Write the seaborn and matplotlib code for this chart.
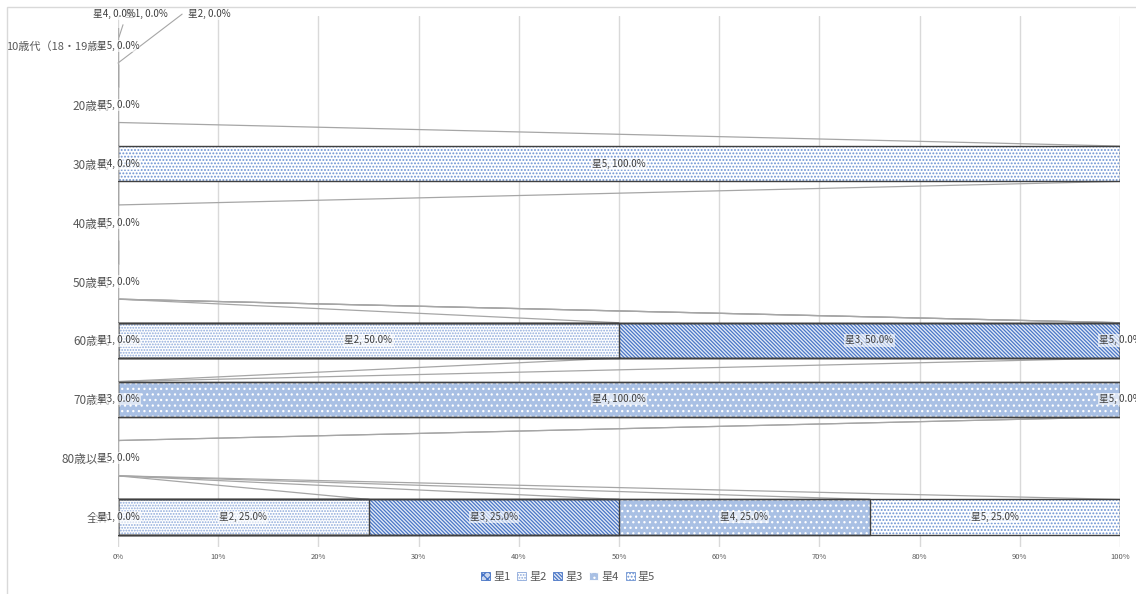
import numpy as np
import pandas as pd
import matplotlib
matplotlib.use("Agg")
import matplotlib.pyplot as plt
from matplotlib.patches import Patch, Rectangle
import seaborn as sns

# ---------------- data ----------------
categories = ["10歳代（18・19歳）", "20歳代", "30歳代", "40歳代", "50歳代",
              "60歳代", "70歳代", "80歳以上", "全体"]
series = ["星1", "星2", "星3", "星4", "星5"]
star1 = [0, 0, 0, 0, 0, 0, 0, 0, 0]
star2 = [0, 0, 0, 0, 0, 50, 0, 0, 25]
star3 = [0, 0, 0, 0, 0, 50, 0, 0, 25]
star4 = [0, 0, 0, 0, 0, 0, 100, 0, 25]
star5 = [0, 0, 100, 0, 0, 0, 0, 0, 25]
x_ticks = [0, 10, 20, 30, 40, 50, 60, 70, 80, 90, 100]

# which data labels Excel kept visible in each row (series index)
shown_labels = {1: [4], 2: [3, 4], 3: [4], 4: [4], 5: [0, 1, 2, 4],
                6: [2, 3, 4], 7: [4], 8: [0, 1, 2, 3, 4]}

# ---------------- style ----------------
sns.set_theme(style="white")
plt.rcParams['font.family'] = ['Noto Sans CJK JP', 'DejaVu Sans']
plt.rcParams['hatch.linewidth'] = 0.9

faces = ["#c9d6ee", "#ffffff", "#e2eaf7", "#a9c0e4", "#ffffff"]
hatch_cols = ["#4472c4", "#8eaadb", "#4a76c6", "#ffffff", "#6d93d2"]
hatches = ["xxxx", "......", "\\" * 9, "...", "....."]
TXT = "#595959"

df = pd.DataFrame({"category": categories, "星1": star1, "星2": star2,
                   "星3": star3, "星4": star4, "星5": star5})
cum = df[series].cumsum(axis=1)
left = cum - df[series]

fig = plt.figure(figsize=(11.36, 5.94), dpi=100)
ax = fig.add_axes([118 / 1136, 1 - 546.5 / 594, 1002 / 1136, 530 / 594])

BW = 0.6
# hatched fills (cumulative overlay, widest first)
for k in reversed(range(len(series))):
    n0 = len(ax.patches)
    sns.barplot(x=cum[series[k]].values, y=categories, order=categories, orient="h",
                color=faces[k], saturation=1, width=BW, errorbar=None, ax=ax)
    for p in ax.patches[n0:]:
        p.set_facecolor(faces[k])
        p.set_edgecolor(hatch_cols[k])
        p.set_linewidth(0)
        p.set_hatch(hatches[k])
        p.set_zorder(2)

# outlines
for k in reversed(range(len(series))):
    n0 = len(ax.patches)
    sns.barplot(x=cum[series[k]].values, y=categories, order=categories, orient="h",
                color="white", saturation=1, width=BW, errorbar=None, ax=ax)
    for p in ax.patches[n0:]:
        p.set_facecolor("none")
        p.set_hatch(None)
        if p.get_width() > 0:
            p.set_edgecolor("#404040")
            p.set_linewidth(1.0)
        else:
            p.set_edgecolor("#b0b0b0")
            p.set_linewidth(1.5)
        p.set_zorder(3)

# series lines between adjacent bars
for i in range(len(categories) - 1):
    for k in range(len(series)):
        ax.plot([cum.iloc[i, k], cum.iloc[i + 1, k]], [i + BW / 2, i + 1 - BW / 2],
                color="#a6a6a6", lw=0.9, zorder=1.5, solid_capstyle="butt")

# axes cosmetics
ax.set_xlim(0, 100)
ax.set_ylim(len(categories) - 0.5, -0.5)
ax.set_xticks(x_ticks)
ax.set_xticklabels([f"{t}%" for t in x_ticks], fontsize=5.5, color=TXT)
ax.tick_params(axis="x", length=0, pad=5)
ax.tick_params(axis="y", length=0, pad=6, labelsize=8.5, labelcolor=TXT)
ax.get_yticklabels()[0].set_fontsize(8)
ax.set_xlabel("")
ax.set_ylabel("")
ax.xaxis.grid(True, color="#d9d9d9", lw=1)
ax.yaxis.grid(False)
ax.set_axisbelow(True)
for s in ax.spines.values():
    s.set_visible(False)

bbox = dict(boxstyle="square,pad=0.12", fc="white", ec="none", alpha=0.6)

def lab(x, y, k, v):
    ax.text(x, y, f"{series[k]}, {v:.1f}%", ha="center", va="center", fontsize=7,
            color="#404040", bbox=bbox, zorder=6, clip_on=False)

for i, ks in shown_labels.items():
    for k in ks:
        v = df[series[k]].iloc[i]
        lab(left.iloc[i, k] + v / 2, i, k, v)

# first row: zero labels pushed outward with leader lines
ax.plot([6.4, 0.0], [-0.54, 0.29], color="#a6a6a6", lw=0.8, zorder=1.6, clip_on=False)
ax.plot([0.5, 0.1], [-0.36, -0.15], color="#a6a6a6", lw=0.8, zorder=1.6, clip_on=False)
lab(0.0, 0, 4, star5[0])
lab(2.8, -0.54, 0, star1[0])
lab(-0.4, -0.54, 3, star4[0])
lab(9.1, -0.54, 1, star2[0])

# legend
handles = [Patch(facecolor=faces[k], edgecolor=hatch_cols[k],
                 hatch=hatches[k], lw=0.5) for k in range(len(series))]
leg = fig.legend(handles, series, loc="center", bbox_to_anchor=(568 / 1136, 1 - 577 / 594),
                 ncol=5, frameon=False, fontsize=8, handlelength=0.8, handleheight=0.8,
                 handletextpad=0.3, columnspacing=0.6, labelcolor=TXT)
for h in leg.legend_handles:
    h.set_linewidth(0.6)

# chart border
fig.patches.append(Rectangle((7 / 1136, -0.1), 1.2, 1 - 7 / 594 + 0.1,
                             transform=fig.transFigure, fill=False,
                             edgecolor="#d9d9d9", lw=1))

fig.savefig("out.png", dpi=100, facecolor="white")
